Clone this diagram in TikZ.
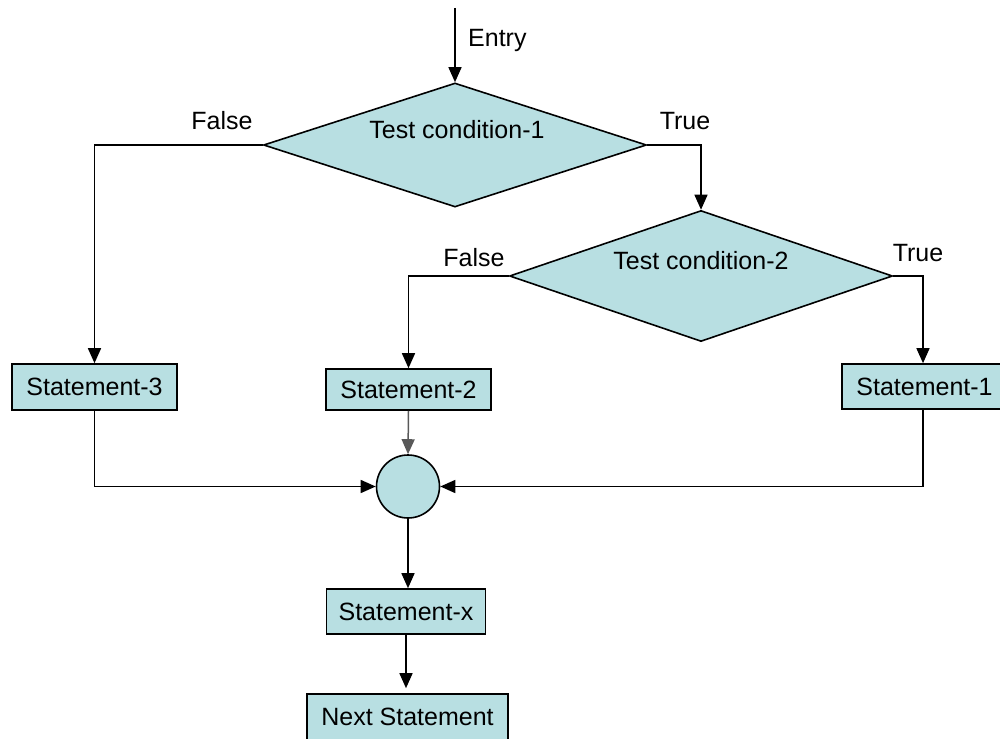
\documentclass[tikz,border=0pt]{standalone}
\usepackage{fontspec}
\setmainfont{Liberation Sans}
\usetikzlibrary{shapes.geometric,arrows.meta}
\definecolor{boxfill}{HTML}{B8DFE2}
\tikzset{
  every node/.style={font=\fontsize{25}{29}\selectfont},
  decision/.style={diamond,draw=black,line width=1.6pt,fill=boxfill,inner sep=0pt},
  stmtbox/.style={rectangle,draw=black,line width=1.6pt,fill=boxfill,inner sep=0pt},
  joinpt/.style={circle,draw=black,line width=1.6pt,fill=boxfill,inner sep=0pt,minimum size=63pt},
  flow/.style={line width=1.5pt,-{Triangle[length=15pt,width=13pt]}},
  lbl/.style={inner sep=0pt}
}
\begin{document}
\begin{tikzpicture}[x=1pt,y=-1pt]
\useasboundingbox (0,0) rectangle (1000,738);

% decisions
\node[decision,minimum width=383pt,minimum height=124pt] (d1) at (455,145) {};
\node[lbl] (t1) at (457,130) {Test condition-1};
\node[decision,minimum width=383pt,minimum height=131pt] (d2) at (701,276) {};
\node[lbl] (t2) at (701,261) {Test condition-2};

% statements
\node[stmtbox,minimum width=165pt,minimum height=46pt] (s3) at (94.5,387) {Statement-3};
\node[stmtbox,minimum width=165pt,minimum height=41pt] (s2) at (408.5,389.5) {Statement-2};
\node[stmtbox,minimum width=165pt,minimum height=45pt] (s1) at (924.5,386.5) {Statement-1};
\node[joinpt] (j) at (408,486.5) {};
\node[stmtbox,minimum width=159pt,minimum height=45pt] (sx) at (406,611.5) {Statement-x};
\node[stmtbox,minimum width=201pt,minimum height=46pt] (ns) at (407.5,717) {Next Statement};

% entry
\coordinate (entry) at (455,8);
\draw[flow] (entry) -- (d1.north);
\node[lbl,anchor=west] (le) at (468,40) {Entry};

% branch labels
\node[lbl] (f1) at (222,121) {False};
\node[lbl] (tr1) at (685,121) {True};
\node[lbl] (f2) at (474,258) {False};
\node[lbl] (tr2) at (918,253) {True};

% branches
\draw[flow] (d1.west) -| (s3.north);
\draw[flow] (d1.east) -| (d2.north);
\draw[flow] (d2.west) -| (s2.north);
\draw[flow] (d2.east) -| ([xshift=-1.5pt]s1.north);

% merge
\draw[flow] (s3.south) |- (j.west);
\draw[flow] ([xshift=-1.5pt]s1.south) |- (j.east);
\draw[flow,draw=black!65] (s2.south) -- (j.north);
\draw[flow] (j.south) -- (j.south |- sx.north);
\draw[flow,shorten >=5pt] (sx.south) -- (sx.south |- ns.north);
\end{tikzpicture}
\end{document}
